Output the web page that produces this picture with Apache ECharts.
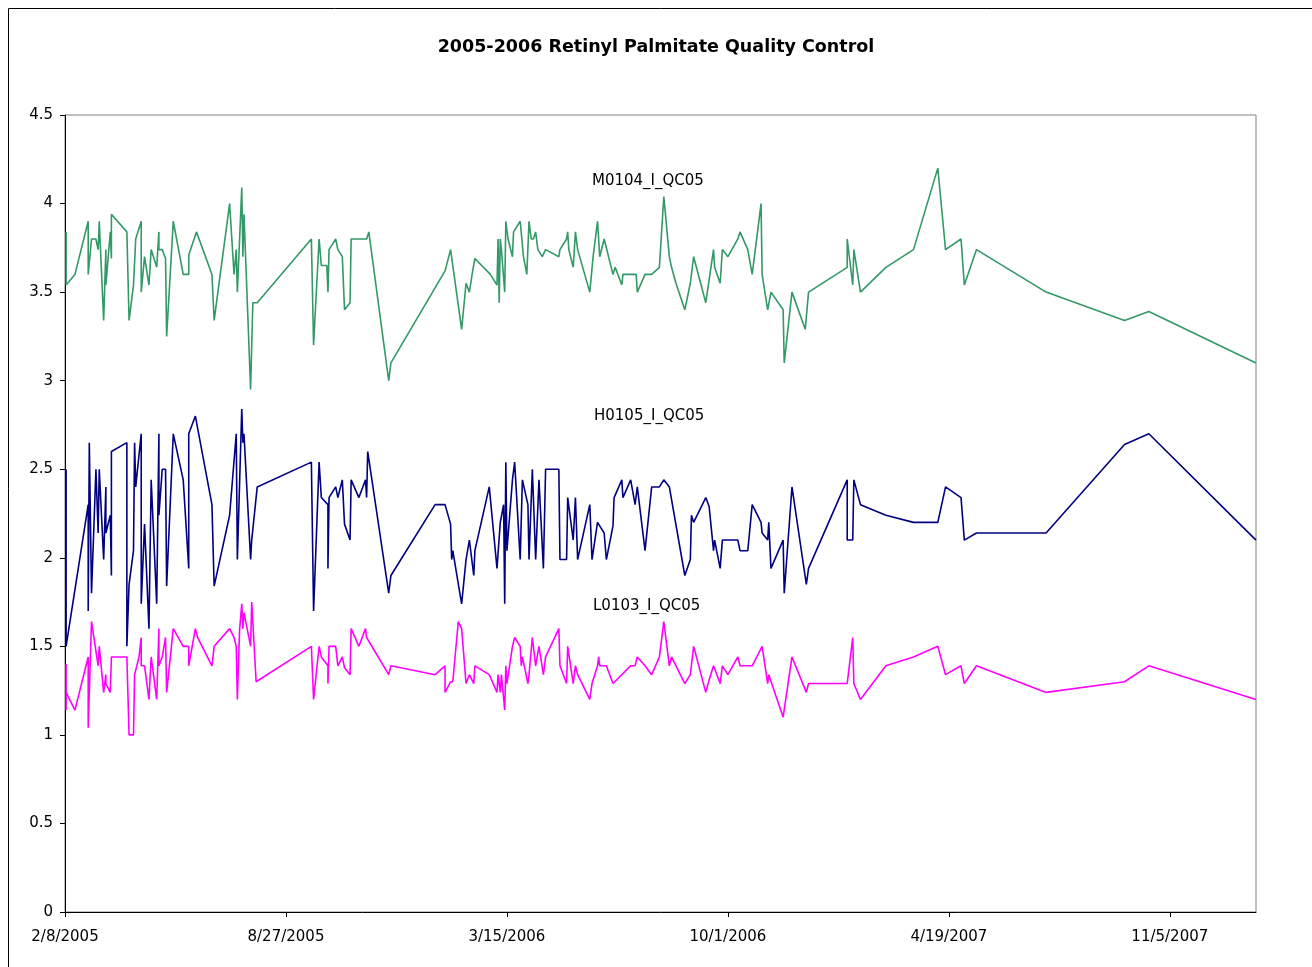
<!DOCTYPE html>
<html>
<head>
<meta charset="utf-8">
<script src="https://cdn.jsdelivr.net/npm/echarts@6/dist/echarts.min.js"></script>
<style>
html,body{margin:0;padding:0;background:#fff;}
#chart{width:1312px;height:967px;}
</style>
</head>
<body>
<div id="chart"></div>
<script>
// x = days since 2/8/2005, y = measured value
const startDate = [2005, 2, 8];
const titleText = '2005-2006 Retinyl Palmitate Quality Control';
const seriesNames = ['M0104_I_QC05', 'H0105_I_QC05', 'L0103_I_QC05'];
const yTicks = [0, 0.5, 1, 1.5, 2, 2.5, 3, 3.5, 4, 4.5];
const xTickStepDays = 200;
const xEndDays = 1078;

const m0104 = [[1,3.84],[1,3.54],[9,3.60],[21,3.90],[21,3.60],[24,3.80],[28,3.80],[30,3.74],[31,3.90],[35,3.34],[37,3.74],[37,3.54],[41,3.84],[42,3.69],[42,3.94],[56,3.84],[58,3.34],[62,3.54],[64,3.80],[69,3.90],[69,3.50],[72,3.70],[76,3.54],[78,3.74],[83,3.64],[85,3.84],[85,3.74],[88,3.74],[91,3.69],[92,3.25],[98,3.90],[107,3.60],[112,3.60],[112,3.71],[119,3.84],[133,3.60],[135,3.34],[149,4.00],[153,3.60],[155,3.74],[156,3.50],[160,4.09],[161,3.70],[162,3.94],[168,2.95],[170,3.44],[174,3.44],[223,3.80],[225,3.20],[230,3.80],[232,3.65],[237,3.65],[238,3.50],[239,3.74],[245,3.80],[247,3.74],[251,3.70],[253,3.40],[258,3.44],[259,3.80],[273,3.80],[275,3.84],[293,3.00],[295,3.10],[344,3.62],[349,3.74],[359,3.29],[363,3.55],[366,3.50],[369,3.62],[371,3.69],[385,3.60],[391,3.54],[392,3.80],[393,3.44],[394,3.80],[395,3.74],[398,3.50],[399,3.90],[401,3.80],[405,3.70],[406,3.84],[412,3.90],[415,3.70],[418,3.60],[420,3.90],[422,3.80],[424,3.80],[426,3.84],[428,3.74],[432,3.70],[435,3.74],[447,3.70],[448,3.74],[454,3.80],[455,3.84],[456,3.74],[460,3.64],[462,3.84],[464,3.74],[475,3.50],[478,3.70],[482,3.90],[484,3.70],[488,3.80],[496,3.60],[498,3.64],[504,3.54],[505,3.60],[517,3.60],[518,3.50],[525,3.60],[531,3.60],[538,3.64],[542,4.04],[547,3.70],[549,3.64],[553,3.55],[561,3.40],[566,3.55],[569,3.70],[580,3.44],[587,3.74],[588,3.64],[593,3.55],[595,3.74],[600,3.70],[609,3.80],[611,3.84],[618,3.74],[622,3.60],[630,4.00],[631,3.60],[636,3.40],[639,3.50],[650,3.40],[651,3.10],[658,3.50],[670,3.29],[673,3.50],[708,3.64],[708,3.80],[713,3.54],[714,3.74],[720,3.50],[743,3.64],[768,3.74],[790,4.20],[797,3.74],[811,3.80],[814,3.54],[825,3.74],[888,3.50],[959,3.34],[981,3.39],[1078,3.10]];

const h0105 = [[1,2.50],[1,1.50],[21,2.30],[21,1.70],[22,2.65],[24,1.80],[28,2.50],[30,2.14],[31,2.50],[35,1.99],[37,2.40],[37,2.14],[41,2.24],[42,1.90],[42,2.60],[56,2.65],[56,1.50],[58,1.85],[62,2.04],[63,2.65],[64,2.40],[69,2.70],[69,1.74],[72,2.19],[76,1.60],[78,2.44],[83,1.74],[85,2.70],[85,2.24],[88,2.50],[91,2.50],[92,1.84],[98,2.70],[107,2.44],[112,1.94],[112,2.70],[118,2.80],[133,2.30],[135,1.84],[149,2.24],[155,2.70],[156,1.99],[160,2.84],[161,2.65],[162,2.70],[168,1.99],[169,2.10],[174,2.40],[223,2.54],[225,1.70],[230,2.54],[232,2.34],[238,2.30],[238,1.94],[239,2.34],[245,2.40],[247,2.34],[251,2.44],[253,2.19],[258,2.10],[259,2.44],[266,2.34],[272,2.44],[273,2.34],[274,2.60],[293,1.80],[295,1.90],[335,2.30],[344,2.30],[349,2.19],[350,1.99],[351,2.04],[359,1.74],[363,1.99],[366,2.10],[370,1.90],[371,2.04],[384,2.40],[391,1.94],[394,2.20],[397,2.30],[398,1.74],[399,2.54],[400,2.04],[405,2.44],[407,2.54],[412,1.99],[414,2.44],[419,2.30],[420,1.99],[423,2.50],[426,1.99],[429,2.44],[433,1.94],[435,2.50],[447,2.50],[448,1.99],[454,1.99],[455,2.34],[460,2.10],[462,2.34],[464,1.99],[475,2.30],[477,1.99],[482,2.20],[488,2.14],[490,1.99],[496,2.18],[497,2.34],[504,2.44],[505,2.34],[512,2.44],[516,2.30],[518,2.40],[525,2.04],[531,2.40],[538,2.40],[542,2.44],[547,2.40],[561,1.90],[566,1.99],[567,2.24],[569,2.20],[580,2.34],[583,2.29],[587,2.04],[588,2.10],[593,1.94],[595,2.10],[609,2.10],[611,2.04],[618,2.04],[622,2.30],[630,2.20],[631,2.14],[636,2.10],[637,2.20],[639,1.94],[650,2.10],[651,1.80],[658,2.40],[671,1.85],[673,1.94],[708,2.44],[708,2.10],[713,2.10],[714,2.44],[720,2.30],[743,2.24],[768,2.20],[790,2.20],[797,2.40],[811,2.34],[814,2.10],[825,2.14],[888,2.14],[959,2.64],[981,2.70],[1078,2.10]];

const l0103 = [[1,1.40],[1,1.14],[1,1.24],[9,1.14],[21,1.44],[21,1.04],[24,1.64],[30,1.39],[31,1.50],[35,1.24],[37,1.34],[37,1.29],[41,1.24],[42,1.44],[56,1.44],[58,1.00],[62,1.00],[63,1.34],[67,1.44],[69,1.55],[69,1.39],[72,1.39],[76,1.20],[78,1.44],[83,1.20],[85,1.60],[85,1.39],[88,1.44],[91,1.55],[92,1.24],[98,1.60],[107,1.50],[112,1.50],[112,1.39],[118,1.60],[120,1.55],[133,1.39],[135,1.50],[149,1.60],[153,1.55],[155,1.50],[156,1.20],[158,1.59],[160,1.74],[161,1.60],[162,1.69],[168,1.50],[169,1.75],[173,1.30],[223,1.50],[225,1.20],[230,1.50],[232,1.44],[238,1.39],[238,1.29],[239,1.50],[245,1.50],[247,1.39],[251,1.44],[253,1.38],[258,1.34],[259,1.60],[266,1.50],[272,1.60],[273,1.55],[274,1.55],[293,1.34],[295,1.39],[335,1.34],[344,1.39],[344,1.24],[349,1.30],[351,1.30],[356,1.64],[359,1.60],[363,1.29],[366,1.34],[370,1.29],[371,1.39],[384,1.34],[391,1.24],[392,1.34],[394,1.24],[395,1.34],[398,1.14],[399,1.39],[400,1.29],[405,1.50],[407,1.55],[412,1.50],[413,1.39],[414,1.44],[419,1.29],[420,1.34],[423,1.55],[426,1.39],[429,1.50],[433,1.34],[435,1.44],[447,1.60],[448,1.39],[454,1.29],[455,1.50],[460,1.29],[462,1.39],[464,1.34],[475,1.20],[477,1.29],[482,1.39],[483,1.44],[484,1.39],[490,1.39],[496,1.29],[512,1.39],[516,1.39],[518,1.44],[525,1.39],[531,1.34],[538,1.44],[542,1.64],[547,1.39],[549,1.44],[561,1.29],[566,1.34],[569,1.50],[580,1.24],[583,1.31],[587,1.39],[593,1.29],[595,1.39],[600,1.34],[609,1.44],[611,1.39],[622,1.39],[631,1.50],[636,1.29],[637,1.34],[650,1.10],[658,1.44],[671,1.24],[673,1.29],[708,1.29],[713,1.55],[714,1.29],[720,1.20],[743,1.39],[768,1.44],[790,1.50],[797,1.34],[811,1.39],[814,1.29],[825,1.39],[888,1.24],[959,1.30],[981,1.39],[1078,1.20]];

const FONT = 'DejaVu Sans';
const startMs = Date.UTC(startDate[0], startDate[1] - 1, startDate[2]);
function dayLabel(v) {
  if (v % xTickStepDays !== 0) return '';
  const d = new Date(startMs + v * 86400000);
  return (d.getUTCMonth() + 1) + '/' + d.getUTCDate() + '/' + d.getUTCFullYear();
}

const chart = echarts.init(document.getElementById('chart'), null, {renderer: 'canvas'});
const lineStyleBase = {width: 1.6};
chart.setOption({
  animation: false,
  backgroundColor: '#ffffff',
  title: {
    text: titleText,
    left: 'center',
    top: 33,
    textStyle: {fontFamily: FONT, fontSize: 17.5, fontWeight: 'bold', color: '#000'}
  },
  grid: {
    left: 65, top: 115, width: 1191, height: 797,
    show: true, borderColor: '#808080', borderWidth: 1, backgroundColor: 'transparent'
  },
  xAxis: {
    type: 'value',
    min: 0, max: xEndDays, interval: xTickStepDays,
    splitLine: {show: false},
    axisLine: {show: true, lineStyle: {color: '#000', width: 1}},
    axisTick: {show: true, inside: false, length: 5, lineStyle: {color: '#000'}},
    axisLabel: {show: true, showMaxLabel: false, formatter: dayLabel, color: '#000', fontFamily: FONT, fontSize: 15, margin: 18}
  },
  yAxis: {
    type: 'value',
    min: yTicks[0], max: yTicks[yTicks.length - 1], interval: yTicks[1] - yTicks[0],
    splitLine: {show: false},
    axisLine: {show: true, lineStyle: {color: '#000', width: 1}},
    axisTick: {show: true, inside: false, length: 5, lineStyle: {color: '#000'}},
    axisLabel: {color: '#000', fontFamily: FONT, fontSize: 15, margin: 12}
  },
  graphic: [
    {type: 'rect', shape: {x: 8.5, y: 8.5, width: 2000, height: 2000}, style: {fill: 'none', stroke: '#000', lineWidth: 1}, silent: true, z: -1},
    {type: 'text', left: 592, top: 174, style: {text: seriesNames[0], fontFamily: FONT, fontSize: 15, fill: '#000'}},
    {type: 'text', left: 594, top: 409, style: {text: seriesNames[1], fontFamily: FONT, fontSize: 15, fill: '#000'}},
    {type: 'text', left: 593, top: 599, style: {text: seriesNames[2], fontFamily: FONT, fontSize: 15, fill: '#000'}}
  ],
  series: [
    {name: seriesNames[0], type: 'line', data: m0104, showSymbol: false, symbol: 'none', lineStyle: Object.assign({color: '#339966'}, lineStyleBase), itemStyle: {color: '#339966'}},
    {name: seriesNames[1], type: 'line', data: h0105, showSymbol: false, symbol: 'none', lineStyle: Object.assign({color: '#000080'}, lineStyleBase), itemStyle: {color: '#000080'}},
    {name: seriesNames[2], type: 'line', data: l0103, showSymbol: false, symbol: 'none', lineStyle: Object.assign({color: '#FF00FF'}, lineStyleBase), itemStyle: {color: '#FF00FF'}}
  ]
});
</script>
</body>
</html>
